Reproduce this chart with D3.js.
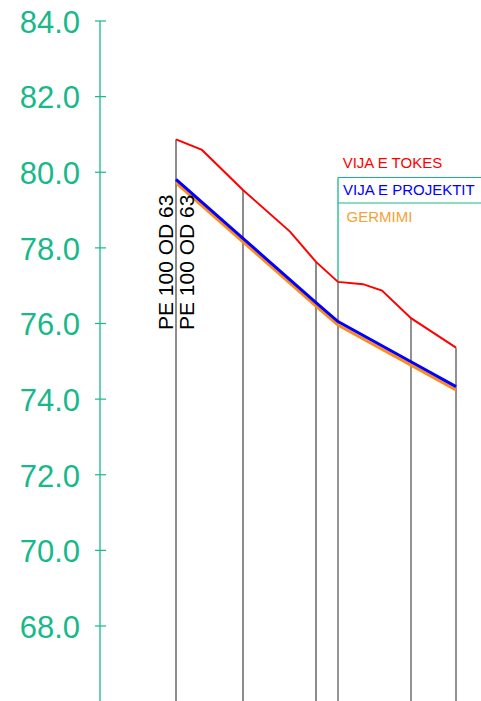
<!DOCTYPE html>
<html>
<head>
<meta charset="utf-8">
<script src="https://cdn.jsdelivr.net/npm/d3@7"></script>
<style>
html,body{margin:0;padding:0;background:#fff;}
svg{display:block;}
</style>
</head>
<body>
<svg id="chart" width="481" height="701"></svg>
<script>
// Stations (chainage) of the profile's vertical section lines
const stations = [0, 67, 140, 162, 235, 280];
// Ground line (VIJA E TOKES) has extra break points
const groundStations = [0, 26, 67, 114, 140, 162, 187, 206, 235, 280];
const groundLevels   = [80.87, 80.59, 79.53, 78.43, 77.63, 77.10, 77.04, 76.87, 76.14, 75.36];
// Project line (VIJA E PROJEKTIT)
const projectLevels  = [79.81, 78.25, 76.55, 76.05, 74.99, 74.33];
// Excavation line (GERMIMI)
const excavLevels    = [79.72, 78.16, 76.46, 75.96, 74.90, 74.24];
// Y tick labels
const yTicks = [68, 70, 72, 74, 76, 78, 80, 82, 84];
const seriesNames = ["VIJA E TOKES", "VIJA E PROJEKTIT", "GERMIMI"];
const pipeLabels = ["PE 100 OD 63", "PE 100 OD 63"];

const green = "#17b98a";
const colors = ["#ff0000", "#0000ff", "#ff8c1a"];
const legendColors = ["#ff0000", "#0000ff", "#f7a035"];

const svg = d3.select("#chart");
const x = d3.scaleLinear().domain([0, 280]).range([176, 456]);
const y = d3.scaleLinear().domain([68, 84]).range([626, 21]);
const bottom = 701;
const axisX = 100;

// Axis
svg.append("line").attr("x1", axisX).attr("x2", axisX)
  .attr("y1", y(84)).attr("y2", bottom)
  .attr("stroke", green).attr("stroke-width", 1.3);
const tg = svg.append("g");
tg.selectAll("line.tick").data(yTicks).join("line")
  .attr("x1", axisX - 5).attr("x2", axisX + 6)
  .attr("y1", d => y(d)).attr("y2", d => y(d))
  .attr("stroke", green).attr("stroke-width", 1.2);
tg.selectAll("text").data(yTicks).join("text")
  .attr("x", 80).attr("y", d => y(d)).attr("dy", "0.38em")
  .attr("text-anchor", "end")
  .attr("font-family", "Liberation Sans, Arial, sans-serif")
  .attr("font-size", 31).attr("fill", green)
  .text(d => d3.format(".1f")(d));

// Vertical section lines from ground line down to bottom
const groundAt = s => groundLevels[groundStations.indexOf(s)];
const vcolors = ["#1a1a1a", "#1a1a1a", "#1a1a1a", "#2a2a2a", "#777", "#777"];
const vwidths = [1, 1, 1, 1, 1.6, 1.6];
svg.selectAll("line.vert").data(stations).join("line")
  .attr("class", "vert")
  .attr("x1", d => x(d)).attr("x2", d => x(d))
  .attr("y1", d => y(groundAt(d))).attr("y2", bottom)
  .attr("stroke", (d, i) => vcolors[i]).attr("stroke-width", (d, i) => vwidths[i]);

// Legend box (green)
const lx = x(162);
svg.append("line").attr("x1", lx).attr("x2", 481).attr("y1", 177.5).attr("y2", 177.5)
  .attr("stroke", green).attr("stroke-width", 1.2);
svg.append("line").attr("x1", lx).attr("x2", 481).attr("y1", 203).attr("y2", 203)
  .attr("stroke", green).attr("stroke-width", 1.2);
svg.append("line").attr("x1", lx).attr("x2", lx).attr("y1", 177.5).attr("y2", y(groundAt(162)))
  .attr("stroke", green).attr("stroke-width", 1.3);

// Lines
const lineGen = d3.line().x(d => x(d[0])).y(d => y(d[1]));
svg.append("path").datum(stations.map((s, i) => [s, excavLevels[i]]))
  .attr("d", lineGen).attr("fill", "none").attr("stroke", colors[2]).attr("stroke-width", 3);
svg.append("path").datum(stations.map((s, i) => [s, projectLevels[i]]))
  .attr("d", lineGen).attr("fill", "none").attr("stroke", colors[1]).attr("stroke-width", 3);
svg.append("path").datum(groundStations.map((s, i) => [s, groundLevels[i]]))
  .attr("d", lineGen).attr("fill", "none").attr("stroke", colors[0]).attr("stroke-width", 2);

// Legend text
const legendPos = [[342.7, 168.3], [343, 195], [346.5, 221.7]];
svg.selectAll("text.leg").data(seriesNames).join("text")
  .attr("class", "leg")
  .attr("x", (d, i) => legendPos[i][0]).attr("y", (d, i) => legendPos[i][1])
  .attr("font-family", "Liberation Sans, Arial, sans-serif")
  .attr("font-size", 15).attr("fill", (d, i) => legendColors[i])
  .text(d => d);

// Pipe labels (rotated)
const pipeX = [173, 193.5];
svg.selectAll("text.pipe").data(pipeLabels).join("text")
  .attr("class", "pipe")
  .attr("transform", (d, i) => `translate(${pipeX[i]},330) rotate(-90)`)
  .attr("font-family", "Liberation Sans, Arial, sans-serif")
  .attr("font-size", 21).attr("fill", "#000")
  .text(d => d);
</script>
</body>
</html>
